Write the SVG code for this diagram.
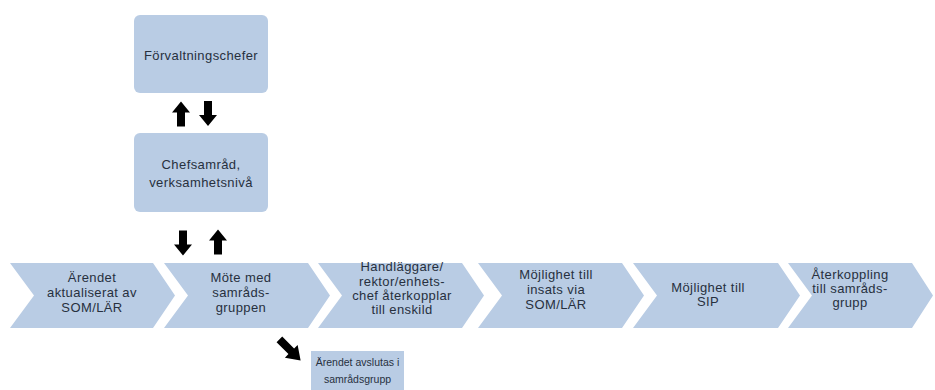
<svg xmlns="http://www.w3.org/2000/svg" width="935" height="390" viewBox="0 0 935 390">
<style>
.box{fill:#b9cce4;}
.t{font-family:"Liberation Sans",Arial,sans-serif;font-size:13px;letter-spacing:0.4px;fill:#27303e;text-anchor:middle;}
.s{font-family:"Liberation Sans",Arial,sans-serif;font-size:10.5px;fill:#27303e;text-anchor:middle;}
.arr{fill:#000;}
</style>
<defs>
<path id="up" d="M0,-12.5 L9,-1.5 L4,-1.5 L4,12.5 L-4,12.5 L-4,-1.5 L-9,-1.5 Z"/>
</defs>
<rect width="935" height="390" fill="#fff"/>

<g id="forvaltningschefer">
<rect class="box" x="134" y="15" width="134" height="78" rx="6"/>
<text class="t" x="201" y="60">Förvaltningschefer</text>
</g>
<g id="chefsamrad">
<rect class="box" x="134" y="133" width="134" height="79" rx="6"/>
<text class="t" x="201" y="169">Chefsamråd,</text>
<text class="t" x="201" y="187">verksamhetsnivå</text>
</g>

<g id="step1">
<polygon class="box" points="10,263 153,263 175,295.5 153,328 10,328 34,295.5"/>
<text class="t" x="92" y="282">Ärendet</text>
<text class="t" x="92" y="297">aktualiserat av</text>
<text class="t" x="92" y="312">SOM/LÄR</text>
</g>
<g id="step2">
<polygon class="box" points="164,263 308,263 330,295.5 308,328 164,328 188,295.5"/>
<text class="t" x="241" y="282">Möte med</text>
<text class="t" x="241" y="297">samråds-</text>
<text class="t" x="241" y="312">gruppen</text>
</g>
<g id="step3">
<polygon class="box" points="318,263 462,263 484,295.5 462,328 318,328 342,295.5"/>
<text class="t" x="402" y="271">Handläggare/</text>
<text class="t" x="402" y="286">rektor/enhets-</text>
<text class="t" x="402" y="300">chef återkopplar</text>
<text class="t" x="402" y="314">till enskild</text>
</g>
<g id="step4">
<polygon class="box" points="478,263 622,263 644,295.5 622,328 478,328 502,295.5"/>
<text class="t" x="556" y="279">Möjlighet till</text>
<text class="t" x="556" y="294">insats via</text>
<text class="t" x="556" y="309">SOM/LÄR</text>
</g>
<g id="step5">
<polygon class="box" points="633,263 778,263 800,295.5 778,328 633,328 657,295.5"/>
<text class="t" x="708" y="292">Möjlighet till</text>
<text class="t" x="708" y="306">SIP</text>
</g>
<g id="step6">
<polygon class="box" points="788,263 912,263 933,295.5 912,328 788,328 812,295.5"/>
<text class="t" x="850" y="279">Återkoppling</text>
<text class="t" x="850" y="293">till samråds-</text>
<text class="t" x="850" y="307">grupp</text>
</g>

<g id="avslutas">
<rect class="box" x="311" y="351" width="93" height="39"/>
<text class="s" x="357.5" y="366">Ärendet avslutas i</text>
<text class="s" x="357.5" y="383">samrådsgrupp</text>
</g>

<g id="connectors">
<use href="#up" class="arr" transform="translate(181,114)"/>
<use href="#up" class="arr" transform="translate(208,113.5) rotate(180)"/>
<use href="#up" class="arr" transform="translate(183,243) rotate(180)"/>
<use href="#up" class="arr" transform="translate(218,242)"/>
<use href="#up" class="arr" transform="translate(290,350) rotate(135) scale(1,1.2)"/>
</g>
</svg>
